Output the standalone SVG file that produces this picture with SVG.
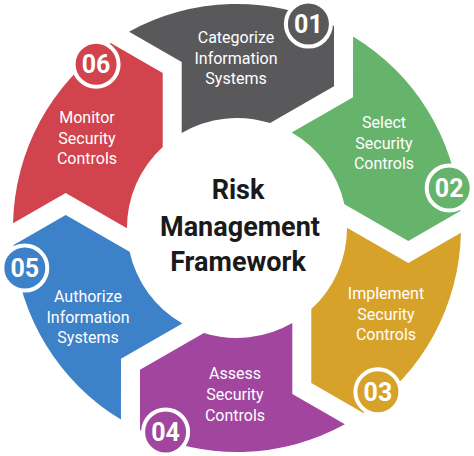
<svg xmlns="http://www.w3.org/2000/svg" xmlns:xlink="http://www.w3.org/1999/xlink" width="474" height="456" viewBox="0 0 474 456">
<style>
.lbl{font-family:Roboto,"Liberation Sans",sans-serif;font-size:16px;fill:#fff;text-anchor:middle}
.num{font-family:Roboto,"Liberation Sans",sans-serif;font-size:25px;font-weight:bold;fill:#fff;text-anchor:middle}
.ttl{font-family:Roboto,"Liberation Sans",sans-serif;font-size:27px;font-weight:bold;fill:#1a1a1a;text-anchor:middle}
.badge{stroke:#fff;stroke-width:4}
</style>
<defs>
<path id="seg" d="M-107.9,-196.3 A224,224 0 0 1 97,-201.9 L97,-141.8 L33.1,-104.9 A110,110 0 0 0 -55.3,-95.1 L-55.3,-165.9 Z"/>
</defs>
<rect width="474" height="456" fill="#fff"/>
<g id="connectors"></g>
<g id="n01">
<use xlink:href="#seg" transform="translate(237,228) rotate(0)" fill="#59595b"/>
<circle class="badge" cx="308.4" cy="24.1" r="22.5" fill="#59595b"/>
<text class="num" x="308.4" y="33">01</text>
<text class="lbl" x="236" y="43">Categorize</text>
<text class="lbl" x="236" y="64">Information</text>
<text class="lbl" x="236" y="84">Systems</text>
</g>
<g id="n02">
<use xlink:href="#seg" transform="translate(237,228) rotate(60)" fill="#66b46c"/>
<circle class="badge" cx="449.2" cy="187.9" r="22.5" fill="#66b46c"/>
<text class="num" x="449.2" y="197">02</text>
<text class="lbl" x="384" y="128">Select</text>
<text class="lbl" x="384" y="149">Security</text>
<text class="lbl" x="384" y="169">Controls</text>
</g>
<g id="n03">
<use xlink:href="#seg" transform="translate(237,228) rotate(120)" fill="#d6a22a"/>
<circle class="badge" cx="377.9" cy="391.8" r="22.5" fill="#d6a22a"/>
<text class="num" x="377.9" y="400.7">03</text>
<text class="lbl" x="386" y="299">Implement</text>
<text class="lbl" x="386" y="320">Security</text>
<text class="lbl" x="386" y="340">Controls</text>
</g>
<g id="n04">
<use xlink:href="#seg" transform="translate(237,228) rotate(180)" fill="#a1459f"/>
<circle class="badge" cx="165.6" cy="431.9" r="22.5" fill="#a1459f"/>
<text class="num" x="165.6" y="440.8">04</text>
<text class="lbl" x="235" y="379">Assess</text>
<text class="lbl" x="235" y="400">Security</text>
<text class="lbl" x="235" y="421">Controls</text>
</g>
<g id="n05">
<use xlink:href="#seg" transform="translate(237,228) rotate(240)" fill="#3d81c8"/>
<circle class="badge" cx="24.8" cy="268.1" r="22.5" fill="#3d81c8"/>
<text class="num" x="24.8" y="277">05</text>
<text class="lbl" x="88" y="302">Authorize</text>
<text class="lbl" x="88" y="323">Information</text>
<text class="lbl" x="88" y="343">Systems</text>
</g>
<g id="n06">
<use xlink:href="#seg" transform="translate(237,228) rotate(300)" fill="#d1434d"/>
<circle class="badge" cx="96.1" cy="64.2" r="22.5" fill="#d1434d"/>
<text class="num" x="96.1" y="73.1">06</text>
<text class="lbl" x="87" y="123">Monitor</text>
<text class="lbl" x="87" y="144">Security</text>
<text class="lbl" x="87" y="164">Controls</text>
</g>
<g id="center">
<text class="ttl" x="238" y="199">Risk</text>
<text class="ttl" x="240" y="236">Management</text>
<text class="ttl" x="238" y="271">Framework</text>
</g>
</svg>
